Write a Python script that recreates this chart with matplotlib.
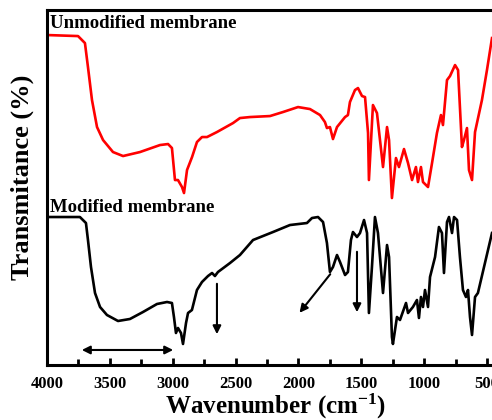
import matplotlib
matplotlib.use("Agg")
import matplotlib.pyplot as plt
from matplotlib.ticker import MultipleLocator

plt.rcParams['font.family'] = ['Liberation Serif', 'DejaVu Serif']
plt.rcParams['font.weight'] = 'bold'
plt.rcParams['mathtext.fontset'] = 'custom'
plt.rcParams['mathtext.rm'] = 'Liberation Serif:bold'
plt.rcParams['mathtext.bf'] = 'Liberation Serif:bold'
plt.rcParams['mathtext.default'] = 'rm'

# unmodified membrane spectrum (offset upward)
wn_unmod = [3992, 3753, 3698, 3674, 3642, 3602, 3554, 3475, 3395, 3260, 3101, 3037,
            3006, 2982, 2958, 2926, 2910, 2886, 2846, 2807, 2767, 2727, 2648, 2520,
            2465, 2385, 2226, 2123, 2003, 1908, 1828, 1789, 1773, 1749, 1725, 1693,
            1629, 1606, 1590, 1550, 1526, 1494, 1470, 1446, 1439, 1407, 1375, 1351,
            1327, 1295, 1279, 1256, 1224, 1200, 1160, 1128, 1096, 1065, 1049, 1025,
            1009, 969, 937, 898, 866, 850, 818, 794, 754, 730, 699, 683, 659, 643,
            619, 595, 540, 500, 460]
t_unmod = [330, 329, 322, 298, 265, 238, 225, 213, 209, 213, 220, 221,
           217, 185, 185, 178, 172, 195, 208, 223, 228, 228, 233, 242,
           247, 248, 249, 253, 258, 256, 250, 243, 237, 238, 226, 238,
           248, 250, 263, 275, 277, 269, 268, 232, 185, 260, 252, 225,
           198, 238, 225, 167, 207, 198, 216, 202, 185, 198, 183, 198,
           183, 178, 202, 232, 250, 240, 285, 289, 300, 295, 218, 225, 237, 195,
           185, 233, 265, 295, 327]

# modified membrane spectrum
wn_mod = [3984, 3738, 3690, 3674, 3650, 3618, 3578, 3523, 3435, 3340, 3236, 3125,
          3045, 3006, 2990, 2974, 2958, 2934, 2918, 2894, 2878, 2847, 2807, 2767,
          2719, 2687, 2664, 2640, 2544, 2465, 2361, 2202, 2067, 1932, 1892, 1844,
          1804, 1773, 1749, 1725, 1693, 1669, 1629, 1606, 1582, 1566, 1534, 1510,
          1478, 1454, 1439, 1415, 1391, 1367, 1327, 1295, 1279, 1256, 1248, 1216,
          1192, 1144, 1128, 1089, 1057, 1041, 1025, 1009, 993, 969, 953, 913,
          882, 858, 842, 818, 802, 778, 762, 738, 715, 691, 667, 651, 635, 619,
          595, 572, 516, 460]
t_mod = [148, 148, 142, 125, 98, 72, 58, 50, 44, 46, 53, 61,
         63, 62, 48, 32, 37, 32, 21, 42, 52, 55, 75, 83,
         89, 92, 89, 93, 102, 110, 125, 133, 140, 142, 147, 148,
         143, 122, 93, 98, 110, 103, 90, 93, 125, 133, 128, 132,
         145, 132, 52, 98, 148, 132, 72, 120, 108, 28, 21, 48,
         45, 62, 52, 58, 65, 47, 68, 58, 75, 58, 88, 108,
         138, 132, 92, 143, 148, 132, 148, 145, 108, 75, 68, 75, 48, 30,
         68, 72, 102, 132]

fig = plt.figure(figsize=(4.92, 4.20), dpi=100)
ax = fig.add_axes([0.0955, 0.131, 0.9096, 0.845])

ax.plot(wn_unmod, t_unmod, color='#ff0000', lw=1.9)
ax.plot(wn_mod, t_mod, color='black', lw=1.9)

ax.set_xlim(4000, 440)
ax.set_ylim(0, 355)
ax.xaxis.set_major_locator(MultipleLocator(500))
ax.xaxis.set_minor_locator(MultipleLocator(250))
ax.tick_params(axis='x', which='major', direction='in', length=5, width=2,
               labelsize=12, pad=8)
ax.tick_params(axis='x', which='minor', direction='in', length=4, width=2)
ax.set_yticks([])
for s in ax.spines.values():
    s.set_linewidth(2.2)

ax.set_xlabel(r'Wavenumber (cm$^{-1}$)', fontsize=18, fontweight='bold')
ax.xaxis.set_label_coords(0.51, -0.075)
ax.set_ylabel('Transmitance (%)', fontsize=19, fontweight='bold')
ax.yaxis.set_label_coords(-0.03, 0.53)

ax.text(3975, 342, 'Unmodified membrane', fontsize=13.5, fontweight='bold',
        va='center', ha='left')
ax.text(3975, 158, 'Modified membrane', fontsize=13.5, fontweight='bold',
        va='center', ha='left')

# band markers
arrow = dict(arrowstyle='-|>', color='black', lw=1.5, mutation_scale=12)
ax.annotate('', xy=(3745, 15), xytext=(2974, 15),
            arrowprops=dict(arrowstyle='<|-|>', color='black', lw=1.5, mutation_scale=12))
ax.annotate('', xy=(2648, 28), xytext=(2648, 84), arrowprops=arrow)
ax.annotate('', xy=(2005, 50), xytext=(1733, 93), arrowprops=arrow)
ax.annotate('', xy=(1534, 50), xytext=(1534, 116), arrowprops=arrow)

fig.savefig('out.png', dpi=100)
